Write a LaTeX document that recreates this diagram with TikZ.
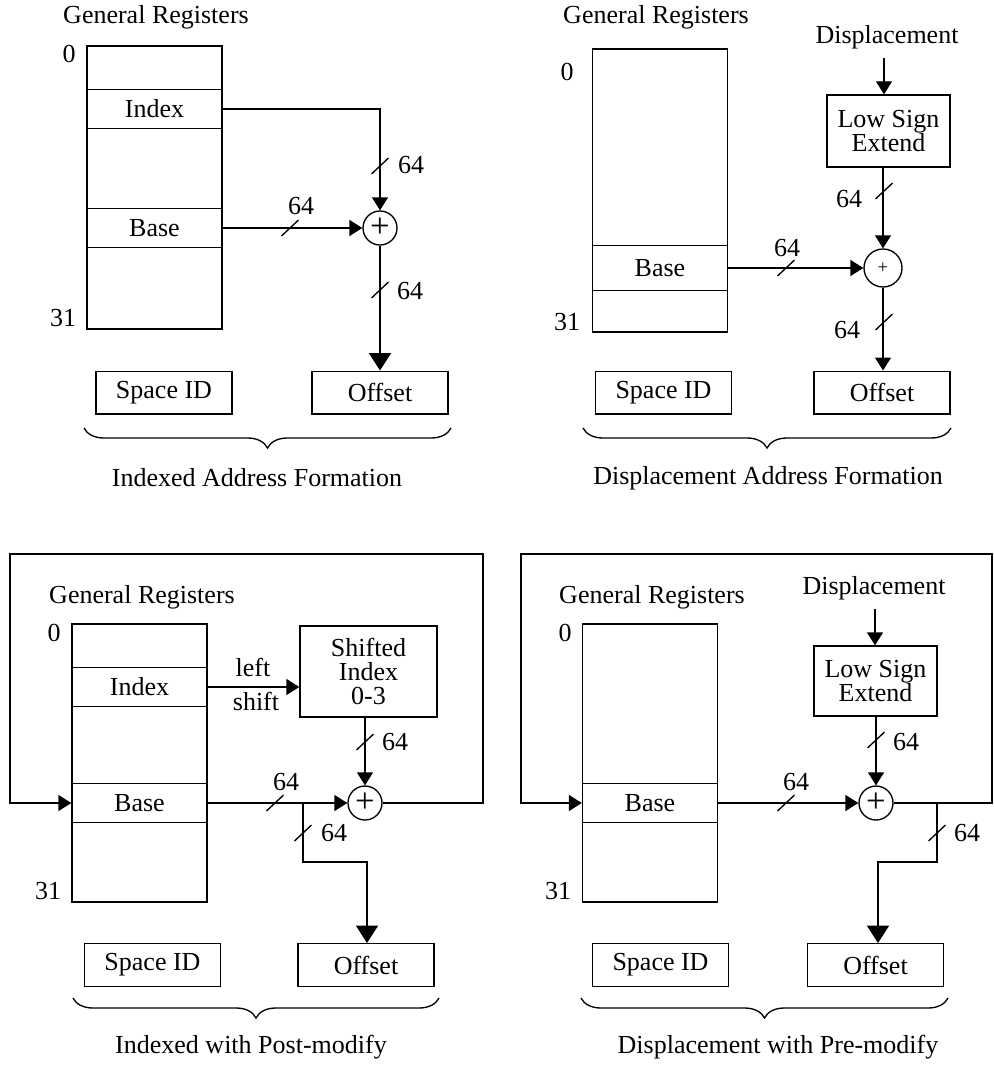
\documentclass[tikz,border=0pt]{standalone}
\usepackage{fontspec}
\setmainfont{Liberation Serif}
\usetikzlibrary{arrows.meta,decorations.pathreplacing}

\tikzset{
  regbox/.style={draw, minimum width=101.25pt, inner sep=0pt},
  row/.style={draw, minimum width=101.25pt, minimum height=29.25pt, inner sep=0pt},
  fieldbox/.style={draw, minimum width=102pt, minimum height=32pt, inner sep=0pt},
  unitbox/.style={draw, align=center, inner sep=0pt},
  adder/.style={draw, circle, minimum size=25.5pt, inner sep=0pt, font=\fontsize{26}{26}\selectfont},
  arr/.style={-{Triangle[length=9.75pt,width=12pt]}},
  bigarr/.style={-{Triangle[length=13pt,width=16.5pt]}},
  busmark/.pic={\draw (-8.5,-8) -- (8.5,8);},
  underbrace/.style={decorate, decoration={brace, mirror, amplitude=15pt}},
}

\begin{document}
\begin{tikzpicture}[x=0.75pt,y=0.75pt,yscale=-1,xscale=1,line width=1pt,font=\fontsize{19.5}{18}\selectfont]
\useasboundingbox (0,0) rectangle (993,1074);

%%%% Indexed address formation
% Text Node
\node (genreg1) at (156,17) {General Registers};
%Shape: Rectangle
\node[regbox, minimum height=212.25pt] (reg1) at (154.5,187.5) {};
\node[row] (idx1) at (154.5,109) {Index};
\node[row] (base1) at (154.5,228) {Base};
\node (zero1) at (69,54) {0};
\node (last1) at (63,318) {31};
\node[adder] (add1) at (380,228) {+};
\node[fieldbox] (space1) at (164,392.5) {Space ID};
\node[fieldbox] (offset1) at (380,392.5) {Offset};
%Straight Lines
\draw[arr] (idx1.east) -| (add1.north);
\draw[arr] (base1.east) -- (add1.west);
\draw[bigarr] (add1.south) -- (offset1.north);
\pic at (380,166) {busmark};
\pic at (290,228) {busmark};
\pic at (380,290) {busmark};
\node (w1a) at (411,165) {64};
\node (w1b) at (301,206) {64};
\node (w1c) at (410,291) {64};
\draw[underbrace] (84,428) -- (451,428);
\node (title1) at (257,478) {Indexed Address Formation};

%%%% Displacement address formation
% Text Node
\node (genreg2) at (656,17) {General Registers};
%Shape: Rectangle
\node[regbox, minimum height=212.25pt] (reg2) at (660,190.5) {};
\node[row, minimum height=33.75pt] (base2) at (660,268) {Base};
\node (zero2) at (567,72) {0};
\node (last2) at (567,322) {31};
\node (disp2) at (887,37) {Displacement};
\coordinate (din2) at (884,58);
\node[unitbox, minimum width=92.25pt, minimum height=54pt] (lse2) at (888.5,131) {Low Sign\\Extend};
\node[adder, minimum size=28.5pt, font=\fontsize{14}{14}\selectfont] (add2) at (883,268) {+};
\node[fieldbox] (space2) at (663.5,392.5) {Space ID};
\node[fieldbox] (offset2) at (882,392.5) {Offset};
%Straight Lines
\draw[arr] (din2) -- (din2 |- lse2.north);
\draw[arr] (add2.north |- lse2.south) -- (add2.north);
\draw[arr] (base2.east) -- (add2.west);
\draw[arr] (add2.south) -- (add2.south |- offset2.north);
\pic at (884,191) {busmark};
\pic at (786,268) {busmark};
\pic at (884,322) {busmark};
\node (w2a) at (849,199) {64};
\node (w2b) at (787,248) {64};
\node (w2c) at (847,330) {64};
\draw[underbrace] (583,428) -- (951,428);
\node (title2) at (768,478) {Displacement Address Formation};

%%%% Indexed with post-modify
% Text Node
\node (genreg3) at (142,597) {General Registers};
%Shape: Rectangle
\node[regbox, minimum height=208.5pt] (reg3) at (139.5,763) {};
\node[row] (idx3) at (139.5,687) {Index};
\node[row] (base3) at (139.5,803) {Base};
\node (zero3) at (54,633) {0};
\node (last3) at (48,891) {31};
\node[unitbox, minimum width=102.75pt, minimum height=68.25pt] (shift3) at (368.5,671.5) {Shifted\\Index\\0-3};
\node (lsh3) at (253,667) {left};
\node (shf3) at (256,701) {shift};
\node[adder] (add3) at (365,803) {+};
\node[fieldbox] (space3) at (152.5,965) {Space ID};
\node[fieldbox] (offset3) at (366,965) {Offset};
\coordinate (br3) at (303,803);
\coordinate (jog3) at (367,862);
\coordinate (loopr3) at (483,554);
\coordinate (loopl3) at (10,554);
%Straight Lines
\draw[arr] (idx3.east) -- (idx3.east -| shift3.west);
\draw[arr] (add3.north |- shift3.south) -- (add3.north);
\draw[arr] (base3.east) -- (add3.west);
\draw[bigarr] (br3) |- (jog3) -- (jog3 |- offset3.north);
\draw[arr] (add3.east) -| (loopr3) -- (loopl3) |- (base3.west);
\pic at (365,742) {busmark};
\pic at (275,803) {busmark};
\pic at (303,833) {busmark};
\node (w3a) at (395,742) {64};
\node (w3b) at (286,782) {64};
\node (w3c) at (334,833) {64};
\draw[underbrace] (73,998) -- (439,998);
\node (title3) at (251,1047) {Indexed with Post-modify};

%%%% Displacement with pre-modify
% Text Node
\node (genreg4) at (652,597) {General Registers};
%Shape: Rectangle
\node[regbox, minimum height=208.5pt] (reg4) at (650,763) {};
\node[row] (base4) at (650,803) {Base};
\node (zero4) at (565,633) {0};
\node (last4) at (558,891) {31};
\node (disp4) at (874,588) {Displacement};
\coordinate (din4) at (875,609);
\node[unitbox, minimum width=92.25pt, minimum height=52.5pt] (lse4) at (875.5,681) {Low Sign\\Extend};
\node[adder] (add4) at (876,803) {+};
\node[fieldbox] (space4) at (660.5,965) {Space ID};
\node[fieldbox] (offset4) at (875.5,965) {Offset};
\coordinate (br4) at (937,803);
\coordinate (jog4) at (878,862);
\coordinate (loopr4) at (992,554);
\coordinate (loopl4) at (521,554);
%Straight Lines
\draw[arr] (din4) -- (din4 |- lse4.north);
\draw[arr] (add4.north |- lse4.south) -- (add4.north);
\draw[arr] (base4.east) -- (add4.west);
\draw[arr] (add4.east) -| (loopr4) -- (loopl4) |- (base4.west);
\draw[bigarr] (br4) |- (jog4) -- (jog4 |- offset4.north);
\pic at (876,740) {busmark};
\pic at (786,803) {busmark};
\pic at (937,833) {busmark};
\node (w4a) at (906,742) {64};
\node (w4b) at (796,782) {64};
\node (w4c) at (967,833) {64};
\draw[underbrace] (581,998) -- (948,998);
\node (title4) at (778,1047) {Displacement with Pre-modify};

\end{tikzpicture}
\end{document}
